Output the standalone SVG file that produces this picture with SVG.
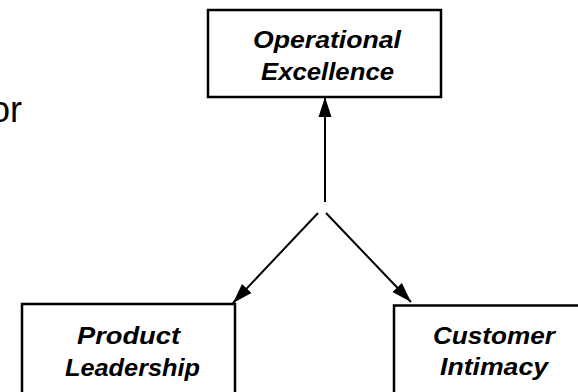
<svg xmlns="http://www.w3.org/2000/svg" width="578" height="392" viewBox="0 0 578 392">
<style>
.box{fill:#fff;stroke:#000;stroke-width:2.5}
.lbl{font-family:"Liberation Sans",Arial,sans-serif;font-weight:bold;font-style:italic;font-size:24px;fill:#000;text-anchor:middle}
.edge{stroke:#000;stroke-width:2;fill:none}
</style>
<defs>
<marker id="ah" markerUnits="userSpaceOnUse" markerWidth="22" markerHeight="14" refX="20" refY="6.5" orient="auto" viewBox="0 0 22 13">
<path d="M0,0 L20,6.5 L0,13 Z" fill="#000"/>
</marker>
</defs>
<rect width="578" height="392" fill="#fff"/>
<text x="22" y="122" font-family="'Liberation Sans',Arial,sans-serif" font-size="36" text-anchor="end" fill="#000">or</text>
<g id="operational">
<rect class="box" x="208" y="10" width="233" height="87"/>
<text class="lbl" x="327" y="48" textLength="148" lengthAdjust="spacingAndGlyphs">Operational</text>
<text class="lbl" x="327.5" y="80" textLength="133" lengthAdjust="spacingAndGlyphs">Excellence</text>
</g>
<g id="product">
<rect class="box" x="22" y="304" width="213" height="100"/>
<text class="lbl" x="128.5" y="344" textLength="103" lengthAdjust="spacingAndGlyphs">Product</text>
<text class="lbl" x="132.5" y="376" textLength="135" lengthAdjust="spacingAndGlyphs">Leadership</text>
</g>
<g id="customer">
<rect class="box" x="394" y="305.5" width="213" height="100"/>
<text class="lbl" x="494" y="344" textLength="122" lengthAdjust="spacingAndGlyphs">Customer</text>
<text class="lbl" x="494" y="375" textLength="108" lengthAdjust="spacingAndGlyphs">Intimacy</text>
</g>
<g id="connectors">
<line class="edge" x1="325" y1="202" x2="325" y2="97" marker-end="url(#ah)"/>
<line class="edge" x1="318" y1="213" x2="233" y2="303" marker-end="url(#ah)"/>
<line class="edge" x1="326" y1="213" x2="411" y2="302" marker-end="url(#ah)"/>
</g>
</svg>
